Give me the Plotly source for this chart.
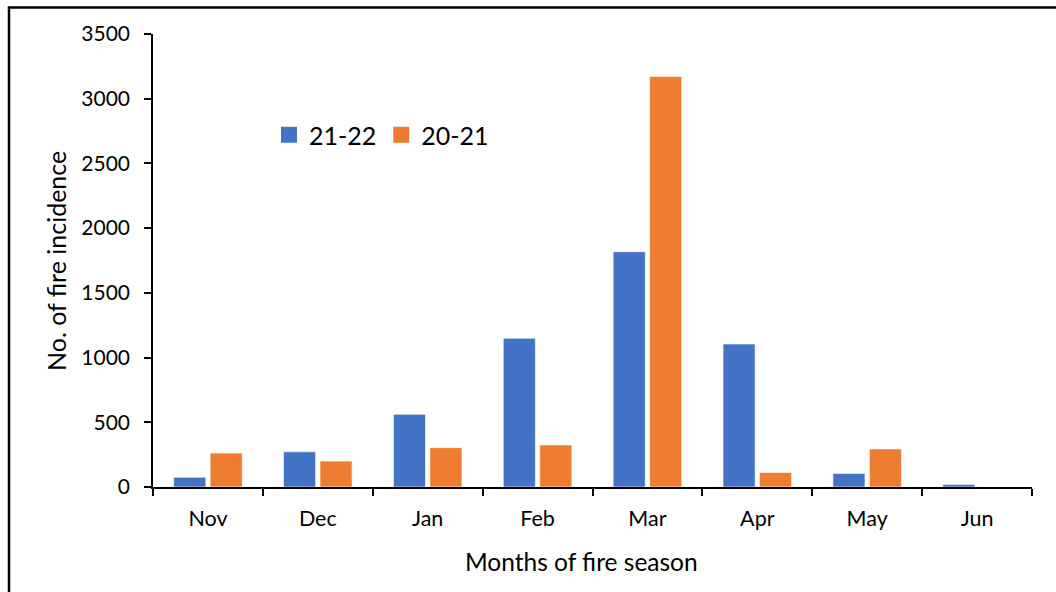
import plotly.graph_objects as go

months = ["Nov", "Dec", "Jan", "Feb", "Mar", "Apr", "May", "Jun"]
season_21_22 = [75, 272, 562, 1149, 1818, 1105, 105, 20]
season_20_21 = [262, 200, 304, 325, 3171, 112, 294, 0]
y_ticks = [0, 500, 1000, 1500, 2000, 2500, 3000, 3500]

BLUE = "#4472C4"
ORANGE = "#ED7D31"
FONT = "Lato"

fig = go.Figure()

# Bars (legend handled by square markers below)
fig.add_trace(go.Bar(x=months, y=season_21_22, name="21-22", marker_color=BLUE,
                     marker_line=dict(color="rgba(255,255,255,0.6)", width=1),
                     showlegend=False))
fig.add_trace(go.Bar(x=months, y=season_20_21, name="20-21", marker_color=ORANGE,
                     marker_line=dict(color="rgba(255,255,255,0.6)", width=1),
                     showlegend=False))

# Legend entries with larger square swatches
for name, col in [("21-22", BLUE), ("20-21", ORANGE)]:
    fig.add_trace(go.Scatter(x=[None], y=[None], mode="markers", name=name,
                             marker=dict(symbol="square", size=16, color=col)))

W, H = 1056, 592
L, R, T, B = 153, 24, 34, 105
pw, ph = W - L - R, H - T - B

def px_x(p):
    return (p - L) / pw

def px_y(p):
    return (H - B - p) / ph

fig.update_layout(
    width=W, height=H,
    margin=dict(l=L, r=R, t=T, b=B, pad=0),
    paper_bgcolor="white", plot_bgcolor="white",
    font=dict(family=FONT, color="#000000", size=21),
    barmode="group", bargap=0.336, bargroupgap=0.12,
    showlegend=True,
    legend=dict(orientation="h", x=px_x(269), y=px_y(112), xanchor="left", yanchor="top",
                font=dict(size=25, family=FONT), bgcolor="rgba(0,0,0,0)",
                itemwidth=30, traceorder="normal"),
    xaxis=dict(type="category", showline=True, linecolor="#000000", linewidth=2,
               ticks="outside", tickson="boundaries", ticklen=7, tickwidth=2,
               tickcolor="#000000", showgrid=False, zeroline=False,
               tickfont=dict(size=21.5, family=FONT), ticklabelstandoff=11),
    yaxis=dict(range=[0, 3500], tickvals=y_ticks, showline=True, linecolor="#000000",
               linewidth=1.5, ticks="outside", ticklen=7, tickwidth=1.5, tickcolor="#000000",
               showgrid=False, zeroline=False, tickfont=dict(size=21, family=FONT),
               ticklabelstandoff=10),
    annotations=[
        dict(text="Months of fire season", xref="paper", yref="paper",
             x=px_x(581), y=px_y(561), xanchor="center", yanchor="middle",
             showarrow=False, font=dict(size=24.5, family=FONT)),
        dict(text="No. of fire incidence", xref="paper", yref="paper",
             x=px_x(56), y=px_y(261), xanchor="center", yanchor="middle",
             textangle=-90, showarrow=False, font=dict(size=25, family=FONT)),
    ],
    shapes=[
        dict(type="line", xref="paper", yref="paper", x0=px_x(9), x1=px_x(9),
             y0=px_y(600), y1=px_y(7.5), line=dict(color="#000000", width=2.5)),
        dict(type="line", xref="paper", yref="paper", x0=px_x(7.8), x1=px_x(1060),
             y0=px_y(7.5), y1=px_y(7.5), line=dict(color="#000000", width=2.5)),
    ],
)

fig.write_html("out.html")
